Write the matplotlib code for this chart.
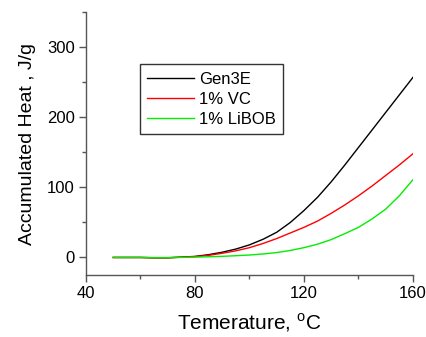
import matplotlib
matplotlib.use('Agg')
import matplotlib.pyplot as plt
from matplotlib.ticker import MultipleLocator

plt.rcParams['font.family'] = ['Liberation Sans', 'DejaVu Sans']
plt.rcParams['mathtext.fontset'] = 'custom'
plt.rcParams['mathtext.rm'] = 'Liberation Sans'

temps = [50, 55, 60, 65, 70, 75, 80, 85, 90, 95, 100, 105, 110, 115,
         120, 125, 130, 135, 140, 145, 150, 155, 160]

gen3e = [0, 0, 0, -0.5, -0.5, 0.5, 1.5, 4, 7.5, 12, 18, 26, 36, 50,
         67, 86, 108, 132, 157, 182, 207, 232, 257]
vc = [0, 0, 0, -0.3, -0.3, 0.3, 1.2, 3, 6, 9.5, 14, 20, 27, 35,
      43, 52, 63, 75, 88, 102, 117, 132, 148]
libob = [0, 0, 0, -0.2, -0.2, 0.1, 0.5, 1, 1.6, 2.5, 3.5, 5, 7, 10,
         14, 19, 25.5, 34, 43, 55, 69, 88, 111]

fig = plt.figure(figsize=(4.27, 3.37), dpi=100)
ax = fig.add_axes([0.2014, 0.184, 0.7658, 0.780])

ax.plot(temps, gen3e, color='black', lw=1, label='Gen3E')
ax.plot(temps, vc, color='red', lw=1, label='1% VC')
ax.plot(temps, libob, color='#00ee00', lw=1, label='1% LiBOB')

ax.set_xlim(40, 160)
ax.set_ylim(-25, 350)
ax.xaxis.set_major_locator(MultipleLocator(40))
ax.xaxis.set_minor_locator(MultipleLocator(20))
ax.yaxis.set_major_locator(MultipleLocator(100))
ax.yaxis.set_minor_locator(MultipleLocator(50))
ax.set_yticks([0, 100, 200, 300])

for s in ['top', 'right']:
    ax.spines[s].set_visible(False)
for s in ['left', 'bottom']:
    ax.spines[s].set_color('#555555')
    ax.spines[s].set_linewidth(1)

ax.tick_params(which='major', direction='out', length=5, width=1, color='#555555',
               labelsize=12, pad=3)
ax.tick_params(which='minor', direction='out', length=3, width=1, color='#555555')

ax.set_xlabel(r'Temerature, $^\mathrm{o}$C', fontsize=15, labelpad=7)
ax.set_ylabel('Accumulated Heat , J/g', fontsize=14, labelpad=8)

leg = ax.legend(loc='upper left', bbox_to_anchor=(0.165, 0.802), borderaxespad=0,
                fontsize=12, frameon=True, fancybox=False, handlelength=2.8,
                handletextpad=0.3, labelspacing=0.3, borderpad=0.45)
leg.get_frame().set_edgecolor('black')
leg.get_frame().set_linewidth(1)

fig.savefig('out.png', dpi=100)
